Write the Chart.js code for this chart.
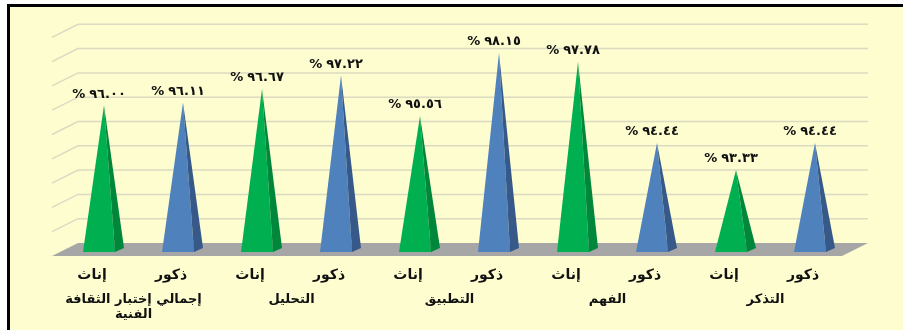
<!DOCTYPE html>
<html lang="ar">
<head>
<meta charset="utf-8">
<title>نسب النجاح</title>
<script src="https://cdn.jsdelivr.net/npm/chart.js@4.4.0/dist/chart.umd.min.js"></script>
<style>
  html, body { margin: 0; padding: 0; background: #fff; }
  #frame {
    position: absolute; left: 7px; top: 4px; width: 896px; height: 326px;
    box-sizing: border-box; border-left: 3px solid #000; border-top: 3px solid #000;
    background: #fdfdd0;
  }
  #chart { position: absolute; left: 0; top: 0; }
</style>
</head>
<body>
<div id="frame"></div>
<canvas id="chart" width="903" height="330"></canvas>
<script>
// محاور المقارنة (السطر الثاني تحت الأعمدة)
const groups = [['إجمالي إختبار الثقافة', 'الفنية'], 'التحليل', 'التطبيق', 'الفهم', 'التذكر'];
const genders = ['إناث', 'ذكور'];

// النسب المئوية لكل محور
const females = [96.00, 96.67, 95.56, 97.78, 93.33];
const males   = [96.11, 97.22, 98.15, 94.44, 94.44];

// المحور الرأسي
const yMin = 90;
const yMax = 99;
const yStep = 1;

const faceColors = { 'إناث': ['#00b050', '#00873b'], 'ذكور': ['#4f81bd', '#36598a'] };

// ترتيب الأعمدة: إناث ثم ذكور لكل محور
const barLabels = groups.flatMap(() => genders);
const barValues = females.flatMap((f, i) => [f, males[i]]);

const arabicDigits = '٠١٢٣٤٥٦٧٨٩';
function toArabic(v) {
  return '%' + v.toFixed(2).replace(/\d/g, d => arabicDigits[d]);
}

// عمق المشهد الثلاثي الأبعاد (الجدار الخلفي والأرضية)
const back = { dx: 13.5, dy: -8 };
const front = { dx: -12.5, dy: 5 };

const pyramids = {
  id: 'pyramids',
  beforeDatasetsDraw(chart) {
    const { ctx, chartArea: a, scales: { y } } = chart;
    ctx.save();
    // خطوط الشبكة على الجدار الخلفي والجانبي
    ctx.strokeStyle = '#dcdac0';
    ctx.lineWidth = 1.5;
    for (let v = y.min + yStep; v <= y.max; v += yStep) {
      const py = y.getPixelForValue(v);
      ctx.beginPath();
      ctx.moveTo(a.left + front.dx, py + front.dy);
      ctx.lineTo(a.left + back.dx, py + back.dy);
      ctx.lineTo(a.right + back.dx, py + back.dy);
      ctx.stroke();
    }
    // الأرضية
    const b = y.getPixelForValue(y.min);
    ctx.fillStyle = '#a6a6a6';
    ctx.beginPath();
    ctx.moveTo(a.left + front.dx, b + front.dy);
    ctx.lineTo(a.right + front.dx, b + front.dy);
    ctx.lineTo(a.right + back.dx, b + back.dy);
    ctx.lineTo(a.left + back.dx, b + back.dy);
    ctx.closePath();
    ctx.fill();
    ctx.restore();
  },
  afterDatasetsDraw(chart) {
    const { ctx, scales: { y } } = chart;
    const meta = chart.getDatasetMeta(0);
    const base = y.getPixelForValue(y.min) + 1;
    ctx.save();
    meta.data.forEach((bar, i) => {
      const { x, y: top, width: w } = bar.getProps(['x', 'y', 'width'], true);
      const [frontFill, sideFill] = faceColors[barLabels[i]];
      const fl = x - w * 0.656, fr = x + w * 0.344;
      // الوجه الأمامي
      ctx.fillStyle = frontFill;
      ctx.beginPath();
      ctx.moveTo(fl, base);
      ctx.lineTo(fr, base);
      ctx.lineTo(x, top);
      ctx.closePath();
      ctx.fill();
      // الوجه الجانبي
      ctx.fillStyle = sideFill;
      ctx.beginPath();
      ctx.moveTo(fr, base);
      ctx.lineTo(fr + 9, base - 4);
      ctx.lineTo(x, top);
      ctx.closePath();
      ctx.fill();
      // قيمة النسبة
      ctx.font = 'bold 13px "DejaVu Sans"';
      ctx.letterSpacing = '4px';
      ctx.fillStyle = '#111';
      ctx.textAlign = 'center';
      ctx.textBaseline = 'middle';
      ctx.direction = 'ltr';
      ctx.fillText(toArabic(barValues[i]), x - 5, top - 11);
    });
    ctx.restore();
  }
};

new Chart(document.getElementById('chart'), {
  type: 'bar',
  data: {
    labels: barLabels,
    datasets: [{
      data: barValues,
      backgroundColor: 'rgba(0,0,0,0)',
      borderWidth: 0,
      categoryPercentage: 1,
      barPercentage: 0.405
    }]
  },
  options: {
    responsive: false,
    animation: false,
    layout: { padding: { left: 64.5, right: 48.5, top: 32.3, bottom: 0 } },
    plugins: { legend: { display: false }, tooltip: { enabled: false } },
    scales: {
      y: { display: false, min: yMin, max: yMax, ticks: { stepSize: yStep } },
      x: {
        offset: true,
        grid: { display: false, drawTicks: false },
        border: { display: false },
        ticks: {
          color: '#111', autoSkip: false, maxRotation: 0, padding: 16, labelOffset: -12,
          font: { family: 'DejaVu Sans', size: 14, weight: 'bold' }
        },
        afterFit(s) { s.height = 32; }
      },
      x2: {
        type: 'category',
        labels: groups,
        position: 'bottom',
        offset: true,
        grid: { display: false, drawTicks: false },
        border: { display: false },
        ticks: {
          color: '#111', autoSkip: false, maxRotation: 0, padding: 9, labelOffset: -10,
          font: { family: 'DejaVu Sans', size: 13, weight: 'bold', lineHeight: '15px' }
        },
        afterFit(s) { s.height = 47; }
      }
    }
  },
  plugins: [pyramids]
});
</script>
</body>
</html>
